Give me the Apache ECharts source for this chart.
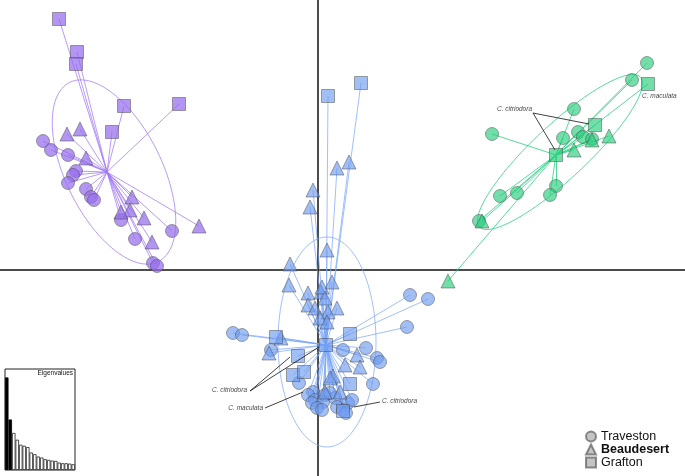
<!DOCTYPE html>
<html>
<head>
<meta charset="utf-8">
<script src="https://cdn.jsdelivr.net/npm/echarts@6/dist/echarts.min.js"></script>
<style>
  html, body { margin: 0; padding: 0; background: #fff; }
  #chart { width: 685px; height: 476px; }
</style>
</head>
<body>
<div id="chart"></div>
<script>
// DAPC scores (axis 1 horizontal, axis 2 vertical)
const purpleCentre = [-211, 98];
const purpleCircles = [[-275,129],[-267,120],[-250,115],[-242,99],[-245,95],[-250,87],[-232,81],[-227,73],[-224,70],[-197,50],[-183,31],[-146,39],[-165,7],[-161,4]];
const purpleTriangles = [[-251,136],[-238,141],[-232,112],[-186,73],[-188,60],[-197,58],[-174,52],[-166,28],[-119,44]];
const purpleSquares = [[-259,251],[-241,218],[-242,206],[-194,164],[-139,166],[-206,138]];

const greenCentre = [238, 115];
const greenCircles = [[329,207],[314,190],[256,161],[174,136],[260,138],[265,133],[245,132],[274,131],[182,74],[199,77],[238,84],[232,75],[161,49]];
const greenTriangles = [[291,134],[274,130],[256,120],[164,49],[130,-11]];
const greenSquares = [[330,186],[277,145],[238,115]];

const blueCentre = [8, -75];
const blueCircles = [[-85,-63],[-76,-65],[92,-25],[110,-29],[89,-57],[25,-80],[48,-78],[59,-88],[62,-92],[55,-114],[-47,-80],[-19,-113],[-5,-122],[-10,-125],[-3,-130],[-6,-133],[7,-125],[5,-132],[-1,-138],[17,-128],[19,-137],[30,-133],[34,-130],[25,-140],[28,-143],[12,-123],[4,-140]];
const blueTriangles = [[31,108],[19,102],[-5,80],[-8,63],[9,20],[-28,6],[-29,-15],[-10,-23],[3,-22],[14,-12],[4,-17],[7,-28],[-10,-35],[-3,-38],[19,-38],[10,-42],[2,-48],[9,-52],[-37,-68],[-49,-83],[39,-85],[42,-97],[27,-95],[15,-106],[12,-108],[7,-122],[22,-122]];
const blueSquares = [[10,174],[43,187],[-42,-67],[32,-64],[8,-75],[-20,-86],[-25,-105],[-14,-102],[32,-114],[25,-141]];

// inertia ellipses: centre x, centre y, semi-major, semi-minor, angle (deg)
const purpleEllipse = [-204, 98, 100, 48, -63.7];
const greenEllipse = [242, 118, 110, 27, 43];
const blueEllipse = [9, -72, 105, 49, 90];

const eigenValues = [27.5, 15, 11, 9, 7.5, 7.2, 6.8, 5.2, 4.7, 4, 3.7, 3.2, 3, 2.8, 2.7, 2.2, 2, 2, 1.9, 1.7];

const populations = ['Traveston', 'Beaudesert', 'Grafton'];

// annotation labels: text, x, y, align
const noteTexts = [
  ['C. citriodora', -71, -120, 'right'],
  ['C. maculata', -55, -138, 'right'],
  ['C. citriodora', 64, -131, 'left'],
  ['C. citriodora', 214, 161, 'right'],
  ['C. maculata', 324, 174, 'left']
];
const noteLines = [
  [[-68,-121],[-28,-87]],
  [[-68,-121],[1,-77]],
  [[-53,-138],[-15,-122]],
  [[62,-132],[36,-137]],
  [[215,157],[237,120]],
  [[215,157],[271,146]]
];

const purple = { fill: 'rgba(150,110,235,0.72)', line: 'rgba(160,120,245,0.75)' };
const green = { fill: 'rgba(40,205,125,0.65)', line: 'rgba(55,212,138,0.85)' };
const blue = { fill: 'rgba(110,155,240,0.65)', line: 'rgba(120,165,250,0.7)' };

const clusters = [
  { col: purple, centre: purpleCentre, ell: purpleEllipse, pts: [purpleCircles, purpleTriangles, purpleSquares] },
  { col: green, centre: greenCentre, ell: greenEllipse, pts: [greenCircles, greenTriangles, greenSquares] },
  { col: blue, centre: blueCentre, ell: blueEllipse, pts: [blueCircles, blueTriangles, blueSquares] }
];

function ellipsePath(e) {
  const [cx, cy, a, b, deg] = e;
  const t = deg * Math.PI / 180;
  const out = [];
  for (let i = 0; i <= 120; i++) {
    const s = i / 120 * 2 * Math.PI;
    out.push([
      cx + a * Math.cos(s) * Math.cos(t) - b * Math.sin(s) * Math.sin(t),
      cy + a * Math.cos(s) * Math.sin(t) + b * Math.sin(s) * Math.cos(t)
    ]);
  }
  return out;
}

const chart = echarts.init(document.getElementById('chart'));
const font = '"Liberation Sans", Arial, sans-serif';

const series = [];

clusters.forEach(c => {
  // star lines from centroid
  series.push({
    type: 'lines',
    coordinateSystem: 'cartesian2d',
    xAxisIndex: 0, yAxisIndex: 0,
    z: 1,
    silent: true,
    lineStyle: { color: c.col.line, width: 1, opacity: 1 },
    data: [].concat(...c.pts).map(p => ({ coords: [c.centre, p] }))
  });
  series.push({
    type: 'line',
    xAxisIndex: 0, yAxisIndex: 0,
    z: 1,
    silent: true,
    showSymbol: false,
    symbol: 'none',
    lineStyle: { color: c.col.line, width: 1 },
    data: ellipsePath(c.ell)
  });
});

const shapes = ['circle', 'triangle', 'rect'];
const sizes = [13, 14, 13];
populations.forEach((name, k) => {
  const data = [];
  clusters.forEach(c => {
    c.pts[k].forEach(p => data.push({ value: p, itemStyle: { color: c.col.fill } }));
  });
  series.push({
    name: name,
    type: 'scatter',
    xAxisIndex: 0, yAxisIndex: 0,
    z: 3,
    symbol: shapes[k],
    symbolSize: sizes[k],
    itemStyle: { color: '#c4c4c4', borderColor: 'rgba(70,70,70,0.6)', borderWidth: 0.8, opacity: 1 },
    data: data
  });
});

series.push({
  type: 'lines',
  coordinateSystem: 'cartesian2d',
  xAxisIndex: 0, yAxisIndex: 0,
  z: 4,
  silent: true,
  lineStyle: { color: '#111', width: 0.8, opacity: 1 },
  data: noteLines.map(l => ({ coords: l }))
});
series.push({
  type: 'scatter',
  xAxisIndex: 0, yAxisIndex: 0,
  z: 4,
  silent: true,
  symbolSize: 0,
  data: noteTexts.map(t => ({
    name: t[0], value: [t[1], t[2]],
    label: { align: t[3] }
  })),
  label: {
    show: true,
    position: [0, 0],
    verticalAlign: 'middle',
    formatter: p => p.name,
    fontFamily: font,
    fontStyle: 'italic',
    fontSize: 6.5,
    color: '#111'
  }
});

// eigenvalue screeplot
series.push({
  type: 'bar',
  xAxisIndex: 1, yAxisIndex: 1,
  z: 10,
  barCategoryGap: '0%',
  silent: true,
  itemStyle: { color: '#fff', borderColor: '#222', borderWidth: 0.8 },
  data: eigenValues.map((v, i) => i < 2 ? { value: v, itemStyle: { color: '#000', borderColor: '#000' } } : v)
});

chart.setOption({
  animation: false,
  backgroundColor: '#fff',
  title: {
    text: 'Eigenvalues',
    right: 612,
    top: 370,
    padding: 0,
    textStyle: { fontFamily: font, fontSize: 6.5, fontWeight: 'normal', color: '#111' }
  },
  legend: {
    orient: 'vertical',
    left: 585,
    top: 430,
    padding: 0,
    itemGap: 0,
    itemWidth: 10,
    itemHeight: 10,
    data: populations,
    formatter: n => n === 'Beaudesert' ? '{b|' + n + '}' : n,
    textStyle: {
      fontFamily: font, fontSize: 12.5, color: '#111', lineHeight: 13,
      rich: { b: { fontFamily: font, fontSize: 12.5, fontWeight: 'bold', color: '#111', lineHeight: 13 } }
    }
  },
  grid: [
    { left: 0, right: 0, top: 0, bottom: 0 },
    { left: 5, top: 369, width: 70, height: 101, show: true, borderColor: '#222', borderWidth: 1 }
  ],
  xAxis: [
    {
      type: 'value', min: -318, max: 367,
      axisLine: { show: true, onZero: true, lineStyle: { color: '#111', width: 1.5 } },
      axisTick: { show: false }, axisLabel: { show: false }, splitLine: { show: false }
    },
    {
      type: 'category', gridIndex: 1, data: eigenValues.map((v, i) => String(i + 1)),
      axisLine: { show: false }, axisTick: { show: false }, axisLabel: { show: false }
    }
  ],
  yAxis: [
    {
      type: 'value', min: -206, max: 270,
      axisLine: { show: true, onZero: true, lineStyle: { color: '#111', width: 1.5 } },
      axisTick: { show: false }, axisLabel: { show: false }, splitLine: { show: false }
    },
    {
      type: 'value', gridIndex: 1, min: 0, max: 30,
      axisLine: { show: false }, axisTick: { show: false }, axisLabel: { show: false }, splitLine: { show: false }
    }
  ],
  series: series
});
</script>
</body>
</html>
